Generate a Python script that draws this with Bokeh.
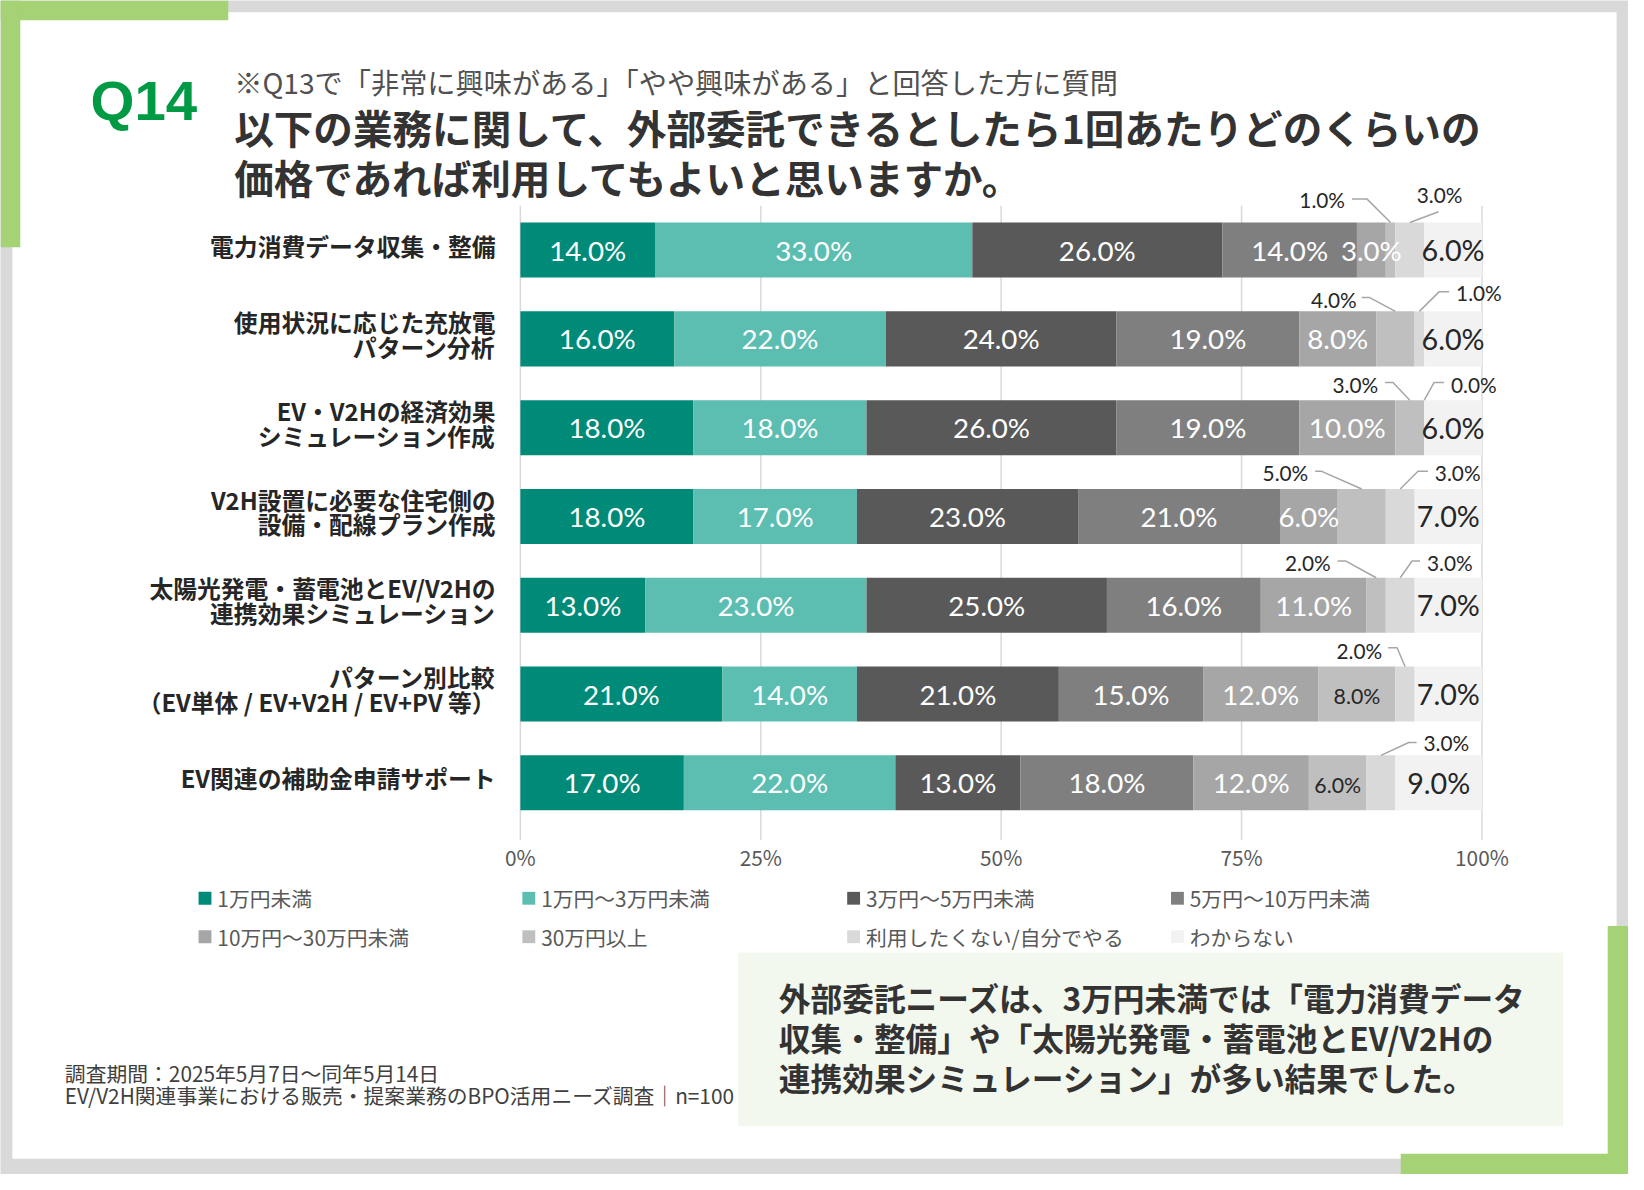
from bokeh.plotting import figure
from bokeh.models import Range1d, ColumnDataSource
from bokeh.embed import file_html
from bokeh.resources import INLINE
from bokeh.core.properties import value

# ---------------- data ----------------
categories = [
    "電力消費データ収集・整備",
    "使用状況に応じた充放電\nパターン分析",
    "EV・V2Hの経済効果\nシミュレーション作成",
    "V2H設置に必要な住宅側の\n設備・配線プラン作成",
    "太陽光発電・蓄電池とEV/V2Hの\n連携効果シミュレーション",
    "パターン別比較\n（EV単体 / EV+V2H / EV+PV 等）",
    "EV関連の補助金申請サポート",
]
series_names = ["1万円未満", "1万円～3万円未満", "3万円～5万円未満", "5万円～10万円未満",
                "10万円～30万円未満", "30万円以上", "利用したくない/自分でやる", "わからない"]
under_1man = [14, 16, 18, 18, 13, 21, 17]
man1_to_3 = [33, 22, 18, 17, 23, 14, 22]
man3_to_5 = [26, 24, 26, 23, 25, 21, 13]
man5_to_10 = [14, 19, 19, 21, 16, 15, 18]
man10_to_30 = [3, 8, 10, 6, 11, 12, 12]
over_30man = [1, 4, 3, 5, 2, 8, 6]
not_use = [3, 1, 0, 3, 3, 2, 3]
dont_know = [6, 6, 6, 7, 7, 7, 9]
tick_values = [0, 25, 50, 75, 100]
tick_labels = ["0%", "25%", "50%", "75%", "100%"]

title_q = "Q14"
subtitle = "※Q13で「非常に興味がある」「やや興味がある」と回答した方に質問"
title_lines = ["以下の業務に関して、外部委託できるとしたら1回あたりどのくらいの",
               "価格であれば利用してもよいと思いますか。"]
summary_lines = ["外部委託ニーズは、3万円未満では「電力消費データ",
                 "収集・整備」や「太陽光発電・蓄電池とEV/V2Hの",
                 "連携効果シミュレーション」が多い結果でした。"]
footnotes = ["調査期間：2025年5月7日～同年5月14日",
             "EV/V2H関連事業における販売・提案業務のBPO活用ニーズ調査｜n=100"]

# ---------------- style ----------------
colors = ["#008A78", "#5CBDB1", "#595959", "#7F7F7F", "#A6A6A6", "#BFBFBF", "#D9D9D9", "#F2F2F2"]
GREEN = "#A5D274"
JP = value("Noto Sans CJK JP")
NUM = value("Lato")

# reference pixel layout helpers (reference canvas 1644 x 1190)
XPX0, XPPU = 525.0, 9.71     # px of 0 %, px per 1 %
YPX0, YPPU = 253.0, 90.0     # px of first row centre, px per row
REF_W, REF_H = 1644, 1190
W, H = 1628, 1174
S = W / REF_W                # font scale


def X(px):
    return (px - XPX0) / XPPU


def Y(py):
    return (py - YPX0) / YPPU


def fs(size):
    return f"{size * S:.1f}px"


p = figure(width=W, height=H, output_backend="svg", toolbar_location=None,
           x_range=Range1d(X(0), X(REF_W)), y_range=Range1d(Y(REF_H), Y(0)),
           x_axis_location=None, y_axis_location=None, min_border=0,
           background_fill_color="#D9D9D9", border_fill_color="#D9D9D9",
           outline_line_color=None)
p.grid.visible = False


def box(x0, y0, x1, y1, color):
    p.quad(left=[X(x0)], right=[X(x1)], top=[Y(y0)], bottom=[Y(y1)],
           fill_color=color, line_color=None)


def txt(x, y, s, size, color="#333333", font=JP, style="normal", align="left", baseline="middle"):
    p.text(x=[x], y=[y], text=[s], text_font=font, text_font_size=fs(size),
           text_font_style=style, text_color=color, text_align=align, text_baseline=baseline)


# frame decorations
box(12, 12, 1632, 1174, "#FFFFFF")
box(0, 0, 230, 20, GREEN)
box(0, 0, 20, 250, GREEN)
box(1623, 938, 1644, 1190, GREEN)
box(1414, 1169, 1644, 1190, GREEN)
box(745, 965, 1578, 1141, "#F3F8EE")

# titles
txt(X(91), Y(101), title_q, 57, color="#009944", font=value("Liberation Sans"), style="bold")
txt(X(236), Y(82), subtitle, 28.5, color="#505050")
txt(X(236), Y(128), title_lines[0], 40, style="bold")
txt(X(236), Y(178), title_lines[1], 40, style="bold")

# grid lines
p.segment(x0=tick_values, y0=[Y(208)] * 5, x1=tick_values, y1=[Y(851)] * 5,
          line_color="#D9D9D9", line_width=1.5)
for t, lab in zip(tick_values, tick_labels):
    txt(t, Y(868), lab, 21, color="#595959", align="center")

# stacked bars
rows = list(range(len(categories)))
series = [under_1man, man1_to_3, man3_to_5, man5_to_10, man10_to_30, over_30man, not_use, dont_know]
keys = [f"s{i}" for i in range(len(series))]
data = {"row": rows}
for k, s in zip(keys, series):
    data[k] = s
src = ColumnDataSource(data)
BAR_H = 0.62
p.hbar_stack(keys, y="row", height=BAR_H, fill_color=colors, line_color=None, source=src)

# category labels
for r, cat in enumerate(categories):
    lines = cat.split("\n")
    if len(lines) == 1:
        txt(X(500), r - 5 / YPPU, lines[0], 24, color="#262626", style="bold", align="right")
    else:
        txt(X(500), r + (-5 - 12.5) / YPPU, lines[0], 24, color="#262626", style="bold", align="right")
        txt(X(500), r + (-5 + 12.5) / YPPU, lines[1], 24, color="#262626", style="bold", align="right")

# callout layout: (row, series) -> (align, label dx px, label dy px, leader offsets px)
callouts = {
    (0, 5): ("right", -46, -23, [(0, 0), (-24, -24), (-39, -24)]),
    (0, 6): ("left", 7, -28, [(0, 0), (29, -11)]),
    (1, 5): ("right", -39, -12, [(0, 0), (-26, -14), (-34, -14)]),
    (1, 6): ("left", 37, -19, [(0, 0), (20, -20), (30, -20)]),
    (2, 5): ("right", -32, -16, [(0, 0), (-17, -18), (-25, -18)]),
    (2, 6): ("left", 27, -16, [(0, 0), (10, -18), (20, -18)]),
    (3, 5): ("right", -54, -17, [(0, 0), (-41, -18), (-47, -18)]),
    (3, 6): ("left", 35, -17, [(0, 0), (18, -18), (28, -18)]),
    (4, 5): ("right", -46, -15, [(0, 0), (-31, -17), (-39, -17)]),
    (4, 6): ("left", 27, -15, [(0, 0), (12, -17), (20, -17)]),
    (5, 6): ("right", -23, -16, [(0, 0), (-8, -19), (-17, -19)]),
    (6, 6): ("left", 43, -13, [(0, 0), (28, -13), (36, -13)]),
}

lx, ly = [], []
for r in rows:
    cum = 0.0
    for si, s in enumerate(series):
        v = s[r]
        cx = cum + v / 2.0
        cum += v
        lab = f"{v:.1f}%"
        top = r - BAR_H / 2
        if (r, si) in callouts:
            al, dx, dy, pts = callouts[(r, si)]
            txt(cx + dx / XPPU, top + dy / YPPU, lab, 21, color="#262626", font=NUM, align=al)
            lx.append([cx + a / XPPU for a, b in pts])
            ly.append([top + b / YPPU for a, b in pts])
        elif si <= 4:
            txt(cx, r, lab, 28, color="#FFFFFF", font=NUM, align="center")
        elif si == 5:
            txt(cx, r + 2 / YPPU, lab, 21.5, color="#262626", font=NUM, align="center")
        else:
            txt(cx, r, lab, 29, color="#262626", font=NUM, align="center")
p.multi_line(xs=lx, ys=ly, line_color="#A6A6A6", line_width=1.5)

# legend (manual, 4 columns x 2 rows)
col_px = [200, 527, 855, 1182]
row_px = [910, 949]
for i, name in enumerate(series_names):
    cxp = col_px[i % 4]
    cyp = row_px[i // 4]
    box(cxp, cyp - 6.5, cxp + 13, cyp + 6.5, colors[i])
    txt(X(cxp + 19), Y(cyp), name, 21, color="#595959")

# summary box text
for i, line in enumerate(summary_lines):
    txt(X(786), Y(1010 + 40.5 * i), line, 32, style="bold")

# footnotes
txt(X(65), Y(1087), footnotes[0], 21, color="#404040")
txt(X(65), Y(1109), footnotes[1], 21, color="#404040")

open("out.html", "w").write(file_html(p, INLINE))
